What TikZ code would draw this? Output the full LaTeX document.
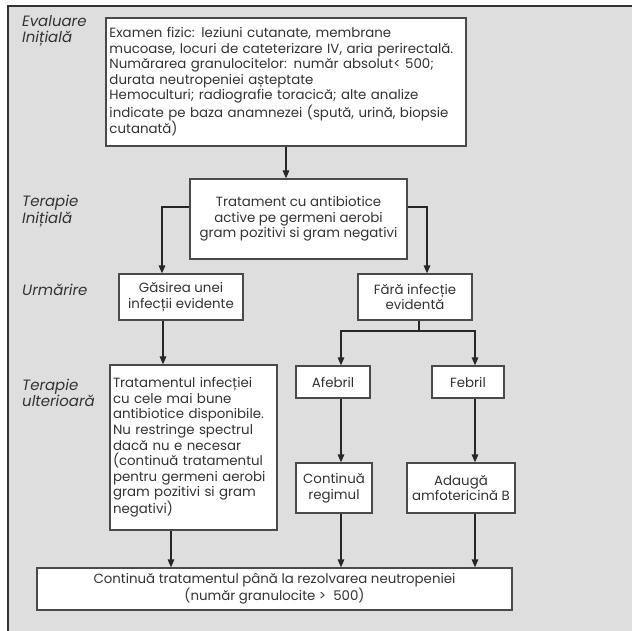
\documentclass[tikz,border=0pt]{standalone}
\usepackage{fontspec}
\setmainfont{Poppins}
\usetikzlibrary{arrows.meta}
\definecolor{panel}{HTML}{DEDEDE}
\definecolor{ink}{HTML}{333333}
\definecolor{rule}{HTML}{4A4A4A}
\begin{document}
\begin{tikzpicture}[x=1bp,y=-1bp,
  every node/.style={text=ink},
  box/.style={draw=rule, line width=1.2bp, fill=white, inner sep=3bp,
    font=\fontsize{13.4}{15.6}\selectfont},
  lbl/.style={anchor=west, align=left, inner sep=0pt,
    font=\fontsize{15}{16.5}\selectfont\itshape},
  arr/.style={draw=black!85, line width=1.4bp,
    -{Triangle[length=8bp,width=6.5bp]}},
  ln/.style={draw=black!85, line width=1.4bp}]
\useasboundingbox (0,0) rectangle (632,631);
% panel
\fill[panel] (8,6) rectangle (632,631);
\draw[black!80, line width=1.5bp] (8,631) -- (8,6) -- (632,6);

% row labels
\node[lbl] (l1) at (22,31) {Evaluare\\Inițială};
\node[lbl] (l2) at (22,211) {Terapie\\Inițială};
\node[lbl] (l3) at (22,290) {Urmărire};
\node[lbl] (l4) at (22,393) {Terapie\\ulterioară};

% boxes
\node[box, minimum width=360bp, minimum height=128bp, text width=353bp, align=left] (b1) at (286,82)
 {Examen fizic: leziuni cutanate, membrane\\
  mucoase, locuri de cateterizare IV, aria perirectală.\\
  Numărarea granulocitelor: număr absolut< 500;\\
  durata neutropeniei așteptate\\
  Hemoculturi; radiografie toracică; alte analize\\
  indicate pe baza anamnezei (spută, urină, biopsie\\
  cutanată)};
\node[box, minimum width=217bp, minimum height=80bp, align=center] (b2) at (298.5,219)
 {Tratament cu antibiotice\\active pe germeni aerobi\\gram pozitivi si gram negativi};
\node[box, minimum width=124bp, minimum height=46bp, align=center] (b3) at (181,297)
 {Găsirea unei\\infecții evidente};
\node[box, minimum width=114bp, minimum height=46bp, align=center] (b4) at (415,297)
 {Fără infecție\\evidentă};
\node[box, minimum width=167bp, minimum height=165bp, text width=161bp, align=left] (b5) at (193.5,447.5)
 {Tratamentul infecției\\cu cele mai bune\\antibiotice disponibile.\\Nu restringe spectrul\\dacă nu e necesar\\(continuă tratamentul\\pentru germeni aerobi\\gram pozitivi si gram\\negativi)};
\node[box, minimum width=74bp, minimum height=32bp] (af) at (333,382) {Afebril};
\node[box, minimum width=72bp, minimum height=32bp] (fe) at (468,382) {Febril};
\node[box, minimum width=76bp, minimum height=50bp, align=center] (cr) at (334,488) {Continuă\\regimul};
\node[box, minimum width=108bp, minimum height=50bp, align=center] (am) at (461,488) {Adaugă\\amfotericină B};
\node[box, minimum width=475bp, minimum height=42bp, align=center] (fin) at (274.5,589)
 {Continuă tratamentul până la rezolvarea neutropeniei\\(număr granulocite >\ \ 500)};

% junction points
\coordinate (jl) at (162,207);
\coordinate (jr) at (427,207);
\coordinate (j3) at (163,0);
\coordinate (jm) at (419,331);
\coordinate (ja) at (341,331);
\coordinate (jf) at (475,331);
\coordinate (j5) at (171,0);

% connectors
\draw[arr] (b1.south) -- (b1.south |- b2.north);
\draw[arr] (b2.west |- jl) -- (jl) -- (jl |- b3.north);
\draw[arr] (b2.east |- jr) -- (jr) -- (jr |- b4.north);
\draw[arr] (j3 |- b3.south) -- (j3 |- b5.north);
\draw[ln] (jm |- b4.south) -- (jm);
\draw[arr] (jm) -- (ja) -- (ja |- af.north);
\draw[arr] (jm) -- (jf) -- (jf |- fe.north);
\draw[arr] (ja |- af.south) -- (ja |- cr.north);
\draw[arr] (jf |- fe.south) -- (jf |- am.north);
\draw[arr] (j5 |- b5.south) -- (j5 |- fin.north);
\draw[arr] (ja |- cr.south) -- (ja |- fin.north);
\draw[arr] (jf |- am.south) -- (jf |- fin.north);
\end{tikzpicture}
\end{document}
